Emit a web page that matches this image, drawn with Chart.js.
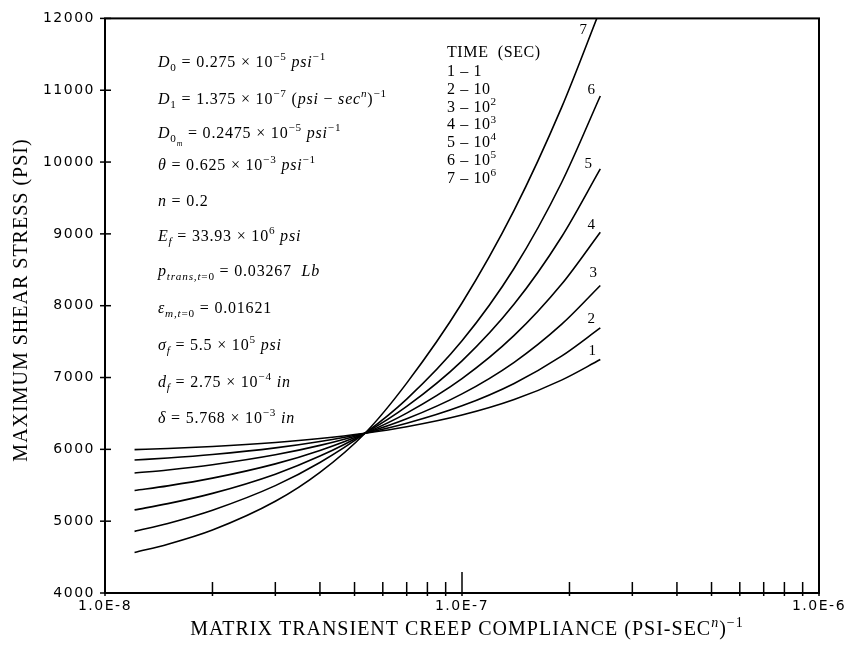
<!DOCTYPE html>
<html>
<head>
<meta charset="utf-8">
<script src="https://cdn.jsdelivr.net/npm/chart.js@4.4.0/dist/chart.umd.min.js"></script>
<style>
  body { margin: 0; background: #fff; }
  #wrap { width: 857px; height: 647px; }
</style>
</head>
<body>
<div id="wrap"><canvas id="mycanvas" width="857" height="647"></canvas></div>
<script>
// matrix transient creep compliance, (psi-sec^n)^-1
var compliance = [1.21e-8, 1.5e-8, 2e-8, 3e-8, 4e-8, 5.35e-8, 7e-8, 1e-7, 1.4e-7, 1.9e-7, 2.44e-7];

// maximum shear stress (psi) for each time
var time1 = [5996, 6012, 6040, 6096, 6151, 6225, 6315, 6478, 6694, 6964, 7250];
var time2 = [5852, 5880, 5928, 6020, 6109, 6225, 6363, 6606, 6918, 7297, 7690];
var time3 = [5670, 5713, 5786, 5924, 6055, 6225, 6425, 6772, 7212, 7739, 8281];
var time4 = [5428, 5492, 5599, 5798, 5985, 6225, 6505, 6985, 7586, 8298, 9024];
var time5 = [5157, 5244, 5387, 5655, 5906, 6225, 6597, 7232, 8023, 8957, 9905];
var time6 = [4858, 4969, 5153, 5495, 5817, 6225, 6700, 7511, 8521, 9712, 10920];
var time7 = [4564, 4679, 4877, 5277, 5680, 6225, 6922, 8037, 9330, 10757, 12124];

var curveNames = ['1', '2', '3', '4', '5', '6', '7'];
var timeKey = ['1 \u2013 1', '2 \u2013 10', '3 \u2013 10^{2}', '4 \u2013 10^{3}', '5 \u2013 10^{4}', '6 \u2013 10^{5}', '7 \u2013 10^{6}'];

var yTicks = [4000, 5000, 6000, 7000, 8000, 9000, 10000, 11000, 12000];
var xMajor = [1e-8, 1e-7, 1e-6];
var xMajorLabels = ['1.0E-8', '1.0E-7', '1.0E-6'];
var xMinor = [2e-8, 3e-8, 4e-8, 5e-8, 6e-8, 7e-8, 8e-8, 9e-8, 2e-7, 3e-7, 4e-7, 5e-7, 6e-7, 7e-7, 8e-7, 9e-7];

// material constants, * toggles italic, _{ } subscript, ^{ } superscript
var constants = [
  '*D*_{0} = 0.275 \u00d7 10^{\u22125} *psi*^{\u22121}',
  '*D*_{1} = 1.375 \u00d7 10^{\u22127} (*psi* \u2212 *sec*^{*n*})^{\u22121}',
  '*D*_{0_{*m*}} = 0.2475 \u00d7 10^{\u22125} *psi*^{\u22121}',
  '*\u03b8* = 0.625 \u00d7 10^{\u22123} *psi*^{\u22121}',
  '*n* = 0.2',
  '*E*_{*f*} = 33.93 \u00d7 10^{6} *psi*',
  '*p*_{*trans,t*=0} = 0.03267  *Lb*',
  '*\u03b5*_{*m,t*=0} = 0.01621',
  '*\u03c3*_{*f*} = 5.5 \u00d7 10^{5} *psi*',
  '*d*_{*f*} = 2.75 \u00d7 10^{\u22124} *in*',
  '*\u03b4* = 5.768 \u00d7 10^{\u22123} *in*'
];
var constantsY = [67, 104, 138, 170, 206, 241, 276, 313, 350, 387, 423];

// label offsets from each curve's last point
var labelOffsets = [[-8, -9], [-9, -9], [-7, -12], [-9, -7], [-12, -5], [-9, -6], [-17, 12]];

var serif = '"Liberation Serif", "DejaVu Serif", serif';

// draws simple markup text, returns the x where it ended
function richText(ctx, str, x, y, size, draw) {
  var italic = false;
  var stack = [{ dy: 0, size: size }];
  var buf = '';
  function flush() {
    if (!buf) return;
    var lv = stack[stack.length - 1];
    ctx.font = (italic ? 'italic ' : '') + lv.size.toFixed(1) + 'px ' + serif;
    if (draw) ctx.fillText(buf, x, y + lv.dy);
    x += ctx.measureText(buf).width;
    buf = '';
  }
  for (var i = 0; i < str.length; i++) {
    var ch = str[i];
    var cur = stack[stack.length - 1];
    if (ch === '*') { flush(); italic = !italic; }
    else if ((ch === '_' || ch === '^') && str[i + 1] === '{') {
      flush();
      stack.push({ dy: cur.dy + (ch === '_' ? cur.size * 0.28 : -cur.size * 0.42), size: cur.size * 0.7 });
      i++;
    }
    else if (ch === '}' && stack.length > 1) { flush(); stack.pop(); }
    else buf += ch;
  }
  flush();
  return x;
}

function line(ctx, x1, y1, x2, y2) {
  ctx.beginPath(); ctx.moveTo(x1, y1); ctx.lineTo(x2, y2); ctx.stroke();
}

var decorations = {
  id: 'decorations',
  beforeDraw: function(chart) { chart.ctx.letterSpacing = '1.5px'; },
  beforeDatasetsDraw: function(chart) { chart.ctx.letterSpacing = '0px'; },
  afterDraw: function(chart) {
    var ctx = chart.ctx, a = chart.chartArea;
    var xs = chart.scales.x, ys = chart.scales.y;
    ctx.save();
    ctx.letterSpacing = '0px';
    ctx.strokeStyle = '#000';
    ctx.fillStyle = '#000';

    // frame and tick marks
    ctx.lineWidth = 2;
    ctx.strokeRect(a.left, a.top, a.right - a.left, a.bottom - a.top);
    ctx.lineWidth = 1.5;
    yTicks.forEach(function(v) {
      var py = ys.getPixelForValue(v);
      line(ctx, a.left - 5, py, a.left + 6, py);
    });
    xMinor.forEach(function(v) {
      var px = xs.getPixelForValue(v);
      line(ctx, px, a.bottom + 3, px, a.bottom - 11);
    });
    xMajor.forEach(function(v) {
      var px = xs.getPixelForValue(v);
      line(ctx, px, a.bottom + 3, px, a.bottom - 21);
    });

    // axis titles
    ctx.textBaseline = 'alphabetic';
    ctx.letterSpacing = '1px';
    ctx.save();
    ctx.translate(27, 300);
    ctx.rotate(-Math.PI / 2);
    ctx.textAlign = 'center';
    ctx.font = '20px ' + serif;
    ctx.fillText('MAXIMUM SHEAR STRESS (PSI)', 0, 0);
    ctx.restore();
    ctx.textAlign = 'left';
    var xt = 'MATRIX TRANSIENT CREEP COMPLIANCE (PSI-SEC^{*n*})^{\u22121}';
    var w = richText(ctx, xt, 0, 0, 20, false);
    richText(ctx, xt, 467 - w / 2, 635, 20, true);

    // constants block
    ctx.letterSpacing = '0.8px';
    constants.forEach(function(s, i) {
      richText(ctx, s, 158, constantsY[i], 16, true);
    });

    // time key
    ctx.letterSpacing = '0.6px';
    ctx.font = '16px ' + serif;
    ctx.fillText('TIME  (SEC)', 447, 57);
    timeKey.forEach(function(s, i) {
      richText(ctx, s, 447, 76 + i * 17.8, 16, true);
    });
    ctx.letterSpacing = '0px';

    // curve numbers at the curve ends
    ctx.textAlign = 'center';
    ctx.textBaseline = 'middle';
    ctx.font = '15px ' + serif;
    chart.data.datasets.forEach(function(ds, i) {
      var pts = chart.getDatasetMeta(i).data;
      var p = pts[pts.length - 1];
      var py = Math.max(p.y, a.top);
      ctx.fillText(curveNames[i], p.x + labelOffsets[i][0], py + labelOffsets[i][1]);
    });
    ctx.restore();
  }
};

var series = [time1, time2, time3, time4, time5, time6, time7];
var datasets = series.map(function(vals, i) {
  return {
    label: curveNames[i],
    data: vals.map(function(v, k) { return { x: compliance[k], y: v }; }),
    borderColor: '#000',
    borderWidth: 1.6,
    pointRadius: 0,
    fill: false,
    cubicInterpolationMode: 'monotone'
  };
});

var ctx = document.getElementById('mycanvas');
var chart = new Chart(ctx, {
  type: 'line',
  data: { datasets: datasets },
  options: {
    responsive: false,
    animation: false,
    layout: { padding: { top: 13, right: 38, left: 0, bottom: 0 } },
    plugins: { legend: { display: false }, tooltip: { enabled: false } },
    scales: {
      x: {
        type: 'logarithmic',
        min: 1e-8,
        max: 1e-6,
        grid: { display: false, drawTicks: false },
        border: { display: false },
        afterBuildTicks: function(scale) {
          scale.ticks = xMajor.map(function(v) { return { value: v }; });
        },
        afterFit: function(scale) { scale.height = 54; },
        ticks: {
          autoSkip: false,
          maxRotation: 0,
          padding: 5,
          color: '#000',
          font: { family: 'DejaVu Sans', size: 14 },
          callback: function(value) {
            var k = xMajor.indexOf(value);
            return k >= 0 ? xMajorLabels[k] : '';
          }
        }
      },
      y: {
        type: 'linear',
        min: 4000,
        max: 12000,
        grid: { display: false, drawTicks: false },
        border: { display: false },
        afterBuildTicks: function(scale) {
          scale.ticks = yTicks.map(function(v) { return { value: v }; });
        },
        afterFit: function(scale) { scale.width = 105; },
        ticks: {
          padding: 10,
          color: '#000',
          font: { family: 'DejaVu Sans', size: 14 },
          callback: function(value) { return String(value); }
        }
      }
    }
  },
  plugins: [decorations]
});
</script>
</body>
</html>
